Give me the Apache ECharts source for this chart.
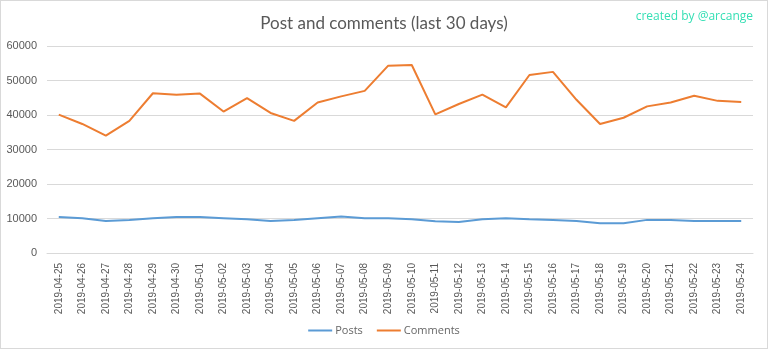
<!DOCTYPE html>
<html><head><meta charset="utf-8">
<script src="https://cdn.jsdelivr.net/npm/echarts@6/dist/echarts.min.js"></script>
<style>html,body{margin:0;padding:0;background:#fff}#c{width:768px;height:349px;box-sizing:border-box;border:1px solid #d9d9d9}</style>
</head><body><div id="c"></div>
<script>
const categories = ["2019-04-25","2019-04-26","2019-04-27","2019-04-28","2019-04-29","2019-04-30","2019-05-01","2019-05-02","2019-05-03","2019-05-04","2019-05-05","2019-05-06","2019-05-07","2019-05-08","2019-05-09","2019-05-10","2019-05-11","2019-05-12","2019-05-13","2019-05-14","2019-05-15","2019-05-16","2019-05-17","2019-05-18","2019-05-19","2019-05-20","2019-05-21","2019-05-22","2019-05-23","2019-05-24"];
const posts = [10400,10100,9300,9600,10100,10400,10400,10100,9800,9300,9600,10100,10600,10100,10100,9800,9200,9000,9800,10100,9800,9600,9300,8600,8600,9600,9600,9300,9300,9300];
const comments = [40100,37400,34000,38300,46300,45900,46200,41000,44900,40600,38300,43600,45400,47000,54300,54500,40200,43200,45900,42200,51600,52500,44400,37400,39200,42500,43600,45600,44100,43800];
const seriesNames = ["Posts","Comments"];
const titleText = "Post and comments (last 30 days)";
const watermark = "created by @arcange";

const chart = echarts.init(document.getElementById('c'), null, {renderer:'canvas'});
chart.setOption({
  animation:false,
  title:[{text:titleText,left:'center',top:9,textStyle:{fontFamily:'Lato',fontWeight:'normal',fontSize:17,color:'#595959'}},
         {text:watermark,right:9,top:5,textStyle:{fontFamily:'Open Sans',fontWeight:'normal',fontSize:12,color:'#33dfb4'}}],
  legend:{bottom:7,left:'center',itemWidth:24,itemHeight:2,itemGap:14,icon:'rect',
    textStyle:{fontFamily:'Open Sans',fontSize:11,color:'#666666',padding:[0,0,0,-2]},data:seriesNames},
  grid:{left:46,right:14,top:45,bottom:95},
  xAxis:{type:'category',data:categories,boundaryGap:true,
    axisLine:{lineStyle:{color:'#d9d9d9'}},axisTick:{show:false},
    axisLabel:{rotate:90,interval:0,fontFamily:'Liberation Sans',fontSize:10,color:'#595959',margin:10}},
  yAxis:{type:'value',min:0,max:60000,interval:10000,
    axisLine:{show:false},axisTick:{show:false},
    splitLine:{lineStyle:{color:'#d9d9d9',width:1}},
    axisLabel:{fontFamily:'Liberation Sans',fontSize:11,color:'#595959',margin:10,formatter:function(v){return String(v);}}},
  series:[
    {name:seriesNames[0],type:'line',data:posts,symbol:'none',lineStyle:{color:'#5b9bd5',width:2},itemStyle:{color:'#5b9bd5'}},
    {name:seriesNames[1],type:'line',data:comments,symbol:'none',lineStyle:{color:'#ed7d31',width:2},itemStyle:{color:'#ed7d31'}}
  ]
});
</script></body></html>
